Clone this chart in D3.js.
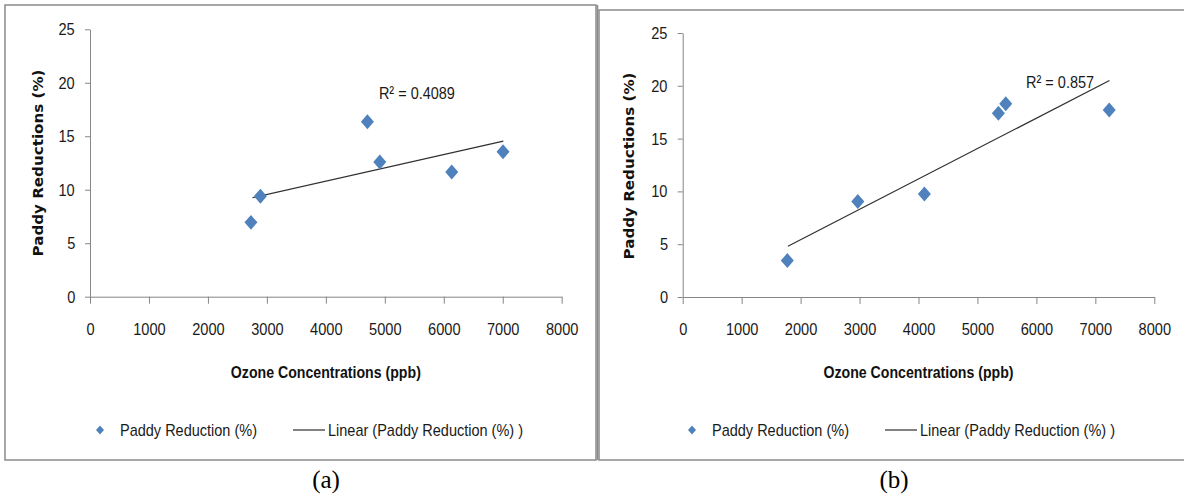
<!DOCTYPE html>
<html>
<head>
<meta charset="utf-8">
<style>
    body { margin: 0; background: #fff; }
    .axis path, .axis line { stroke: #868686; stroke-width: 1; }
    .axis text, .legend text, .r2 {
        font-family: "Liberation Sans", Arial, sans-serif;
        font-size: 17px;
        fill: #1a1a1a;
    }
    .axis text {
        transform-box: fill-box;
        transform-origin: center;
        transform: scaleX(0.86);
    }
    .xtitle {
        font-family: "Liberation Sans", Arial, sans-serif;
        font-weight: bold;
        font-size: 17px;
        fill: #111;
    }
    .ytitle {
        font-family: "DejaVu Sans", Verdana, sans-serif;
        font-weight: bold;
        font-size: 14.5px;
        fill: #111;
    }
    .caption {
        font-family: "Liberation Serif", "Times New Roman", serif;
        font-size: 25px;
        fill: #000;
    }
    .frame { fill: none; stroke: #8a8a8a; stroke-width: 1.5; }
    .trend { stroke: #303030; stroke-width: 1.2; fill: none; }
    .point { fill: #4F81BD; }
</style>
</head>
<body>
<svg id="container" width="1184" height="494"></svg>
<script src="https://cdn.jsdelivr.net/npm/d3@7/dist/d3.min.js"></script>
<script>
    // values
    let xTicks = [0, 1000, 2000, 3000, 4000, 5000, 6000, 7000, 8000]
    let yTicks = [0, 5, 10, 15, 20, 25]

    let ozoneA = [2730, 2890, 4705, 4915, 6135, 7005]
    let reductionA = [6.95, 9.4, 16.35, 12.6, 11.65, 13.55]
    let trendXA = [2755, 7010]
    let trendYA = [9.25, 14.55]
    let r2A = "R\u00B2 = 0.4089"

    let ozoneB = [1775, 2970, 4100, 5355, 5480, 7235]
    let reductionB = [3.45, 9.05, 9.75, 17.4, 18.3, 17.7]
    let trendXB = [1785, 7240]
    let trendYB = [4.8, 20.5]
    let r2B = "R\u00B2 = 0.857"

    let xTitle = "Ozone Concentrations (ppb)"
    let yTitle = "Paddy Reductions (%)"
    let legendLabels = ["Paddy Reduction (%)", "Linear (Paddy Reduction (%) )"]
    let captions = ["(a)", "(b)"]

    let svg = d3.select("#container")

    // panel frames
    svg.append("rect").attr("class", "frame").attr("x", 5).attr("y", 5).attr("width", 591).attr("height", 455)
    svg.append("line").attr("class", "frame").attr("x1", 597.5).attr("x2", 597.5).attr("y1", 5).attr("y2", 460)
    svg.append("rect").attr("class", "frame").attr("x", 599).attr("y", 10).attr("width", 600).attr("height", 450)

    // excel style diamond, a bit taller than wide
    let diamondType = {
        draw(c, size) {
            let r = Math.sqrt(size) / 2
            c.moveTo(0, -r * 1.15)
            c.lineTo(r, 0)
            c.lineTo(0, r * 1.15)
            c.lineTo(-r, 0)
            c.closePath()
        }
    }
    let diamond = d3.symbol().type(diamondType)

    function drawPanel(p) {
        let x = d3.scaleLinear().domain([0, 8000]).range(p.xRange)
        let y = d3.scaleLinear().domain([0, 25]).range(p.yRange)
        let g = svg.append("g")

        g.append("g").attr("class", "axis")
            .attr("transform", `translate(0,${p.yRange[0]})`)
            .call(d3.axisBottom(x).tickValues(xTicks).tickFormat(d3.format("d")).tickSize(7).tickSizeOuter(0).tickPadding(19))

        g.append("g").attr("class", "axis")
            .attr("transform", `translate(${p.xRange[0]},0)`)
            .call(d3.axisLeft(y).tickValues(yTicks).tickSize(5).tickSizeOuter(0).tickPadding(9))

        let line = d3.line().x(d => x(d[0])).y(d => y(d[1]))
        g.append("path").attr("class", "trend")
            .attr("d", line(d3.zip(p.trendX, p.trendY)))

        g.selectAll("path.point").data(d3.zip(p.ozone, p.reduction))
            .enter().append("path")
            .attr("class", "point")
            .attr("d", diamond.size(169))
            .attr("transform", d => `translate(${x(d[0])},${y(d[1])})`)

        g.append("text").attr("class", "r2")
            .attr("x", x(p.r2Pos[0])).attr("y", y(p.r2Pos[1]))
            .attr("textLength", p.r2Width).attr("lengthAdjust", "spacingAndGlyphs")
            .text(p.r2)

        let midX = (p.xRange[0] + p.xRange[1]) / 2
        g.append("text").attr("class", "xtitle")
            .attr("x", midX).attr("y", 378)
            .attr("text-anchor", "middle")
            .attr("textLength", 190).attr("lengthAdjust", "spacingAndGlyphs")
            .text(xTitle)

        g.append("text").attr("class", "ytitle")
            .attr("transform", `translate(${p.yTitleX},${p.yTitleY}) rotate(-90)`)
            .attr("text-anchor", "middle")
            .attr("dy", "0.35em")
            .attr("textLength", 187).attr("lengthAdjust", "spacingAndGlyphs")
            .text(yTitle)

        // legend
        let lg = g.append("g").attr("class", "legend").attr("transform", `translate(${p.legendX},430)`)
        lg.append("path").attr("class", "point").attr("d", diamond.size(64))
        lg.append("text").attr("x", 20).attr("dy", "0.35em")
            .attr("textLength", 137).attr("lengthAdjust", "spacingAndGlyphs")
            .text(legendLabels[0])
        lg.append("line").attr("x1", 193).attr("x2", 225).attr("y1", 0).attr("y2", 0)
            .attr("stroke", "#303030").attr("stroke-width", 1.2)
        lg.append("text").attr("x", 228).attr("dy", "0.35em")
            .attr("textLength", 195).attr("lengthAdjust", "spacingAndGlyphs")
            .text(legendLabels[1])

        svg.append("text").attr("class", "caption")
            .attr("x", p.captionX).attr("y", 488)
            .attr("text-anchor", "middle")
            .text(p.caption)
    }

    drawPanel({
        xRange: [90, 561.7], yRange: [296.7, 29.3],
        ozone: ozoneA, reduction: reductionA, trendX: trendXA, trendY: trendYA,
        r2: r2A, r2Pos: [4900, 18.5], r2Width: 76,
        yTitleX: 38, yTitleY: 163, legendX: 100, captionX: 326, caption: captions[0]
    })

    drawPanel({
        xRange: [682.7, 1154.3], yRange: [297, 33],
        ozone: ozoneB, reduction: reductionB, trendX: trendXB, trendY: trendYB,
        r2: r2B, r2Pos: [5825, 19.8], r2Width: 68,
        yTitleX: 629, yTitleY: 166, legendX: 692, captionX: 894, caption: captions[1]
    })
</script>
</body>
</html>
